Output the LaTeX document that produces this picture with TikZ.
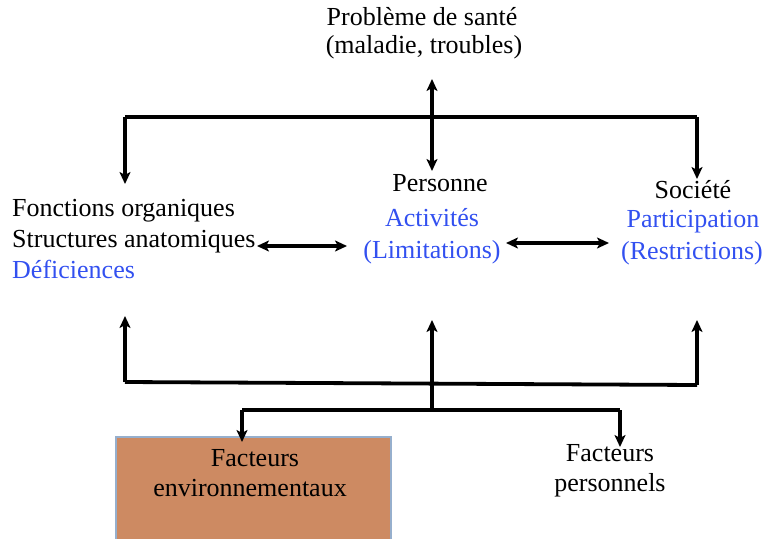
\documentclass[tikz,border=0pt]{standalone}
\usepackage{fontspec}
\setmainfont{Liberation Serif}
\usetikzlibrary{arrows.meta}
\definecolor{txtblue}{RGB}{50,80,240}
\definecolor{boxfill}{RGB}{205,138,98}
\definecolor{boxline}{RGB}{150,175,205}
\begin{document}
\begin{tikzpicture}[x=1pt,y=-1pt,
  lbl/.style={inner sep=0pt,anchor=base,font=\fontsize{26}{31}\selectfont},
  lblw/.style={lbl,anchor=base west},
  blu/.style={text=txtblue},
  wire/.style={line width=3.8pt,line join=miter},
  arr/.style={wire,-{Stealth[length=12pt,width=11pt,inset=3pt]}},
  darr/.style={wire,{Stealth[length=12pt,width=11pt,inset=3pt]}-{Stealth[length=12pt,width=11pt,inset=3pt]}}]
\useasboundingbox (0,0) rectangle (765,538);
% texts
\node[lbl] (pb1) at (422,25) {Problème de santé};
\node[lbl] (pb2) at (424,53) {(maladie, troubles)};
\node[lblw] (fo) at (12,216) {Fonctions organiques};
\node[lblw] (sa) at (12,247) {Structures anatomiques};
\node[lblw,blu] (de) at (12,278) {Déficiences};
\node[lbl] (pe) at (440,191) {Personne};
\node[lbl,blu] (ac) at (432,226) {Activités};
\node[lbl,blu] (li) at (432,258) {(Limitations)};
\node[lbl] (so) at (693,198) {Société};
\node[lbl,blu] (pa) at (693,227) {Participation};
\node[lbl,blu] (re) at (692,259) {(Restrictions)};
% box
\node[draw=boxline,fill=boxfill,line width=2pt,minimum width=275pt,minimum height=110pt,anchor=north west,inner sep=0pt] (env) at (115,436) {};
\node[lbl] (fe1) at (255,466) {Facteurs};
\node[lbl] (fe2) at (250,496) {environnementaux};
\node[lbl] (fp1) at (610,461) {Facteurs};
\node[lbl] (fp2) at (610,491) {personnels};
% coordinates
\coordinate (tA) at (125,117);
\coordinate (tB) at (697,117);
\coordinate (tL) at (125,184);
\coordinate (tR) at (697,179);
\coordinate (vT) at (432,79);
\coordinate (vB) at (432,171);
\coordinate (hL1) at (257,246);
\coordinate (hL2) at (347,246);
\coordinate (hR1) at (506,243);
\coordinate (hR2) at (609,243);
\coordinate (bL) at (125,316);
\coordinate (bM) at (432,320);
\coordinate (bR) at (697,320);
\coordinate (bbL) at (125,382);
\coordinate (bbR) at (697,385);
\coordinate (jM) at (432,410);
\coordinate (jL) at (242,410);
\coordinate (jR) at (620,410);
\coordinate (eL) at (242,442);
\coordinate (eR) at (620,447);
% connectors
\draw[arr] (tA) -- (tL);
\draw[wire] (tA) -- (tB);
\draw[arr] (tB) -- (tR);
\draw[darr] (vT) -- (vB);
\draw[darr] (hL1) -- (hL2);
\draw[darr] (hR1) -- (hR2);
\draw[arr] (bbL) -- (bL);
\draw[wire] (bbL) -- (bbR);
\draw[arr] (bbR) -- (bR);
\draw[arr] (jM) -- (bM);
\draw[wire] (jL) -- (jR);
\draw[arr] (jL) -- (eL);
\draw[arr] (jR) -- (eR);
\end{tikzpicture}
\end{document}
